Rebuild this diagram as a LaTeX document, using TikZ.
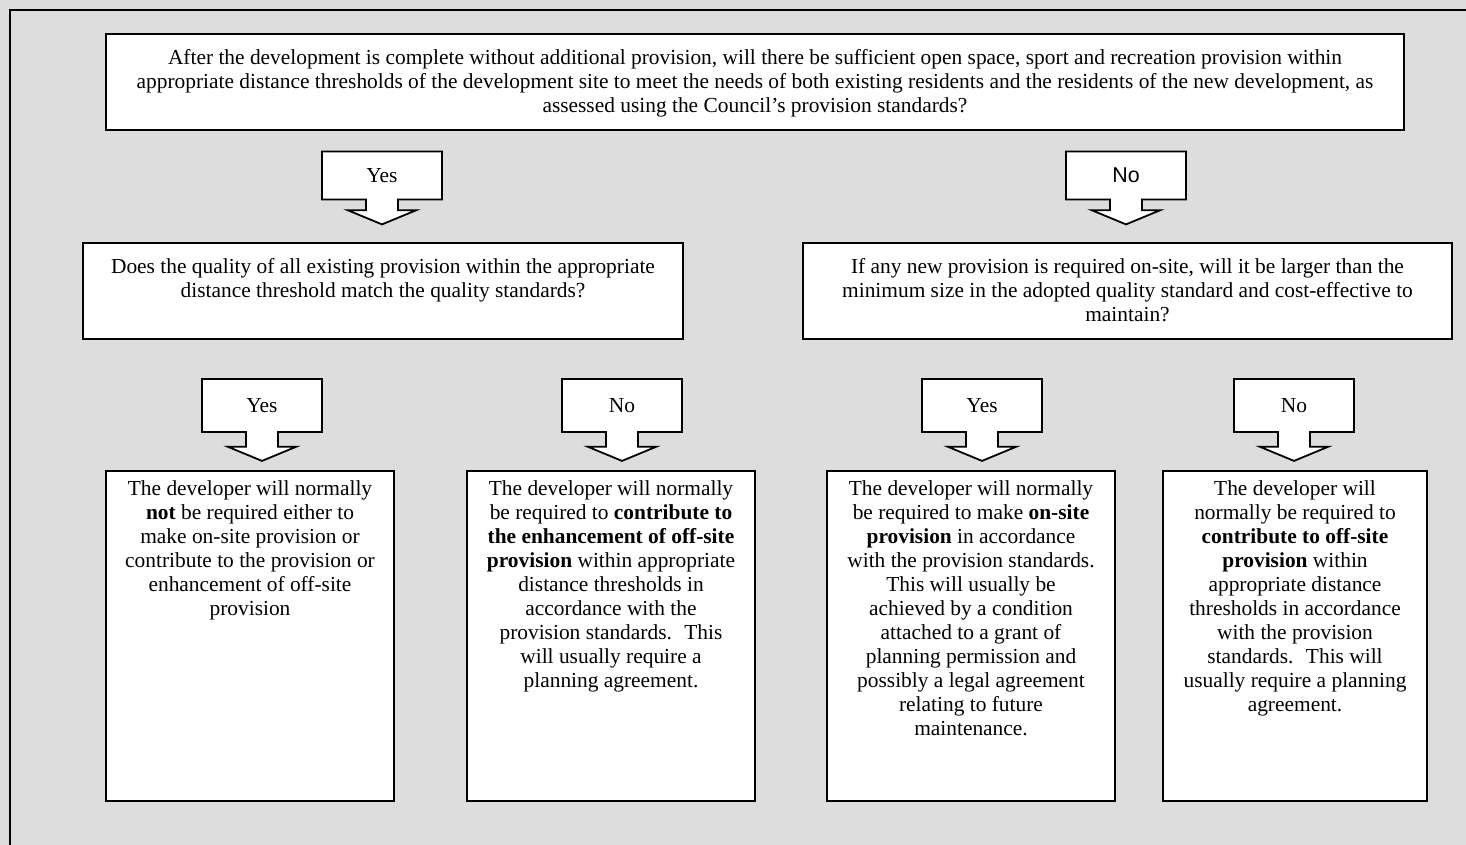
\documentclass[tikz,border=0pt]{standalone}
\usepackage{fontspec}
\setmainfont{Liberation Serif}
\newfontfamily\arialfont{Liberation Sans}
\usetikzlibrary{shapes.arrows,positioning}
\definecolor{panelgray}{RGB}{221,221,221}
\newcommand{\flowfont}{\fontsize{10.7pt}{12pt}\selectfont}
% width, height, top gap, text
\newcommand{\boxtxt}[4]{\parbox[c][#2][t]{#1}{\centering\vspace*{#3}#4\par}}
\tikzset{
  qbox/.style   = {rectangle, draw=black, line width=1pt, fill=white, inner sep=0pt,
                   font=\flowfont, anchor=north west},
  ansbox/.style = {arrow box, draw=black, line width=0.9pt, fill=white, font=\flowfont,
                   minimum width=60pt, inner sep=0pt, arrow box shaft width=16pt,
                   arrow box head extend=9pt, arrow box tip angle=135},
  ansup/.style  = {ansbox, minimum height=24pt, arrow box arrows={south:12pt}},
  anslow/.style = {ansbox, minimum height=26.5pt, arrow box arrows={south:14pt}},
}

\begin{document}
\begin{tikzpicture}[x=0.5pt, y=-0.5pt]
  \useasboundingbox (0,0) rectangle (1466,845);
  \fill[panelgray] (0,0) rectangle (1466,845);
  \draw[line width=1pt] (10,10) rectangle (1490,870);

  % question
  \node[qbox] (need) at (105,33) {\boxtxt{649pt}{48pt}{7.5pt}{%
    After the development is complete without additional provision, will there be sufficient open space, sport and recreation provision within\\
    appropriate distance thresholds of the development site to meet the needs of both existing residents and the residents of the new development, as\\
    assessed using the Council’s provision standards?}};

  \node[ansup] (needyes) at (382,175.5) {Yes};
  \node[ansup, font={\arialfont\flowfont}] (needno) at (1126,175.5) {No};

  % second level
  \node[qbox] (quality) at (82,242) {\boxtxt{300pt}{48pt}{7.8pt}{%
    Does the quality of all existing provision within the appropriate\\
    distance threshold match the quality standards?}};
  \node[qbox] (onsite) at (802,242) {\boxtxt{324.5pt}{48pt}{7.8pt}{%
    If any new provision is required on-site, will it be larger than the\\
    minimum size in the adopted quality standard and cost-effective to\\
    maintain?}};

  \node[anslow] (qualyes) at (262,405.5) {Yes};
  \node[anslow] (qualno)  at (622,405.5) {No};
  \node[anslow] (siteyes) at (982,405.5) {Yes};
  \node[anslow] (siteno)  at (1294,405.5) {No};

  % outcomes
  \node[qbox] (nothing) at (105,470) {\boxtxt{144pt}{165pt}{4.7pt}{%
    The developer will normally\\
    \textbf{not} be required either to\\
    make on-site provision or\\
    contribute to the provision or\\
    enhancement of off-site\\
    provision}};
  \node[qbox] (enhance) at (466,470) {\boxtxt{144pt}{165pt}{4.7pt}{%
    The developer will normally\\
    be required to \textbf{contribute to}\\
    \textbf{the enhancement of off-site}\\
    \textbf{provision} within appropriate\\
    distance thresholds in\\
    accordance with the\\
    provision standards.~ This\\
    will usually require a\\
    planning agreement.}};
  \node[qbox] (make) at (826,470) {\boxtxt{144pt}{165pt}{4.7pt}{%
    The developer will normally\\
    be required to make \textbf{on-site}\\
    \textbf{provision} in accordance\\
    with the provision standards.\\
    This will usually be\\
    achieved by a condition\\
    attached to a grant of\\
    planning permission and\\
    possibly a legal agreement\\
    relating to future\\
    maintenance.}};
  \node[qbox] (offsite) at (1162,470) {\boxtxt{132pt}{165pt}{4.7pt}{%
    The developer will\\
    normally be required to\\
    \textbf{contribute to off-site}\\
    \textbf{provision} within\\
    appropriate distance\\
    thresholds in accordance\\
    with the provision\\
    standards.~ This will\\
    usually require a planning\\
    agreement.}};
\end{tikzpicture}
\end{document}
